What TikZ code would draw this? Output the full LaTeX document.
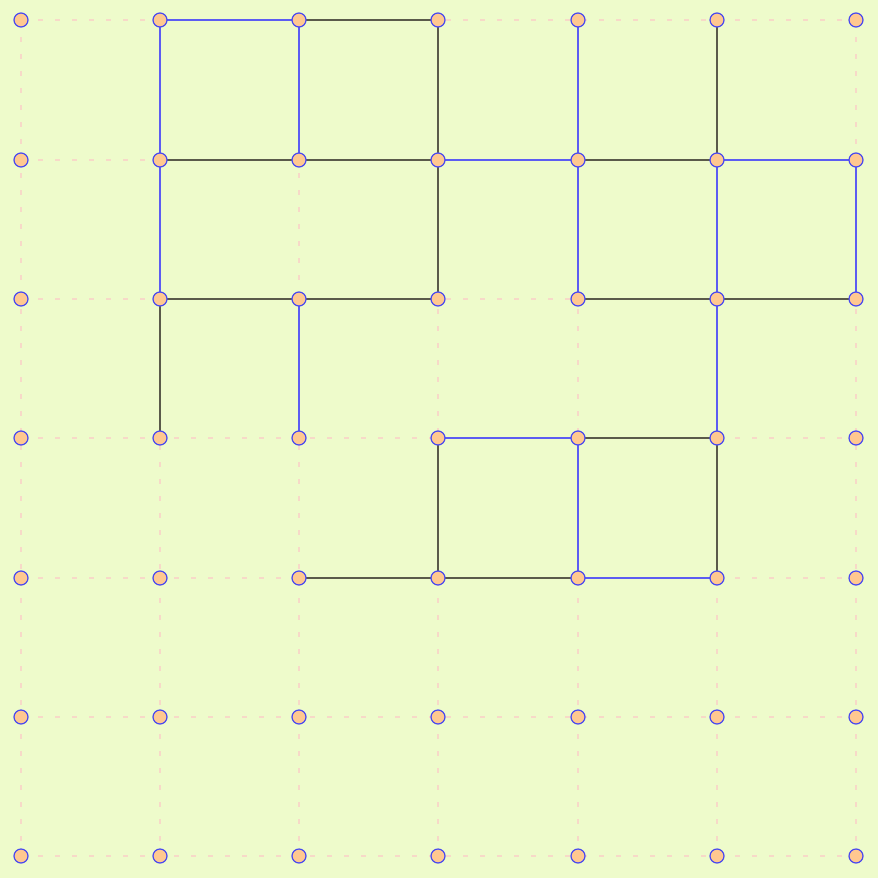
\documentclass[tikz,border=0pt]{standalone}
\definecolor{bgc}{HTML}{EEFBCB}
\definecolor{gridc}{HTML}{F7D9C8}
\definecolor{dotfill}{HTML}{FFC890}
\definecolor{dotline}{HTML}{4848F0}
\definecolor{bluee}{HTML}{5C5CF2}
\definecolor{darke}{HTML}{5A5A4A}
\tikzset{
  dot/.style={circle,minimum size=14bp,inner sep=0pt,fill=dotfill,draw=dotline,line width=1.2bp},
  gridline/.style={draw=gridc,line width=1.5bp,dash pattern=on 5bp off 12bp},
  be/.style={draw=bluee,line width=1.5bp},
  de/.style={draw=darke,line width=1.5bp}
}
\begin{document}
\begin{tikzpicture}[x=1bp,y=-1bp]
\useasboundingbox (0,0) rectangle (878,888);
\fill[white] (0,0) rectangle (878,888);
\fill[bgc] (0,0) rectangle (878,878);
\def\xs{{21,160,299,438,578,717,856}}
\def\ys{{20,160,299,438,578,717,856}}
% coordinates
\foreach \i in {0,...,6}{
  \foreach \j in {0,...,6}{
    \pgfmathsetmacro{\px}{\xs[\i]}
    \pgfmathsetmacro{\py}{\ys[\j]}
    \coordinate (c-\i-\j) at (\px,\py);
  }
}
% grid
\foreach \k in {0,...,6}{
  \draw[gridline] (c-0-\k) -- (c-6-\k);
  \draw[gridline] (c-\k-0) -- (c-\k-6);
}
% edges
\foreach \a/\b in {1-0/2-0, 1-0/1-1, 2-0/2-1, 4-0/4-1, 3-1/4-1, 5-1/6-1,
  1-1/1-2, 4-1/4-2, 5-1/5-2, 6-1/6-2, 2-2/2-3, 5-2/5-3, 3-3/4-3, 4-3/4-4, 4-4/5-4}
  \draw[be] (c-\a) -- (c-\b);
\foreach \a/\b in {2-0/3-0, 3-0/3-1, 5-0/5-1, 1-1/2-1, 2-1/3-1, 4-1/5-1,
  3-1/3-2, 1-2/2-2, 2-2/3-2, 4-2/5-2, 5-2/6-2, 1-2/1-3, 4-3/5-3, 3-3/3-4, 5-3/5-4, 2-4/3-4, 3-4/4-4}
  \draw[de] (c-\a) -- (c-\b);
% dots
\foreach \i in {0,...,6}{
  \foreach \j in {0,...,6}{
    \node[dot] (p-\i-\j) at (c-\i-\j) {};
  }
}
\end{tikzpicture}
\end{document}
